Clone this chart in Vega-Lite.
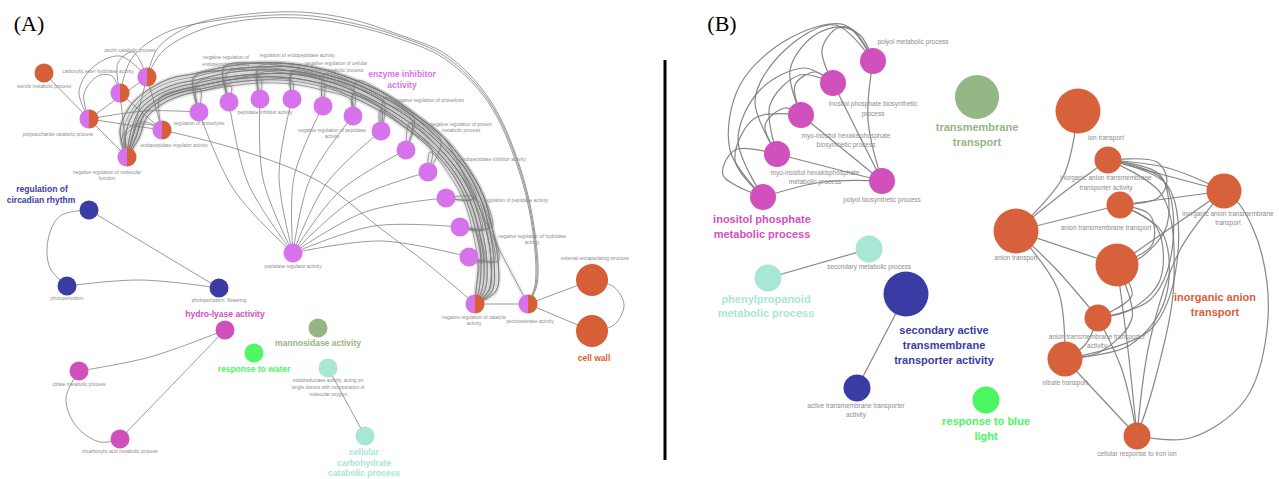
{
"$schema":"https://vega.github.io/schema/vega-lite/v6.json",
"width":1279,"height":479,"autosize":{"type":"none"},"padding":0,"background":"#ffffff",
"config":{"view":{"stroke":null}},
"datasets":{
"ea":[
{"e":"b1","x":127,"y":157},{"e":"b1","x":136,"y":137},{"e":"b1","x":144,"y":115},{"e":"b1","x":162,"y":100},{"e":"b1","x":182,"y":92},{"e":"b1","x":200,"y":89},{"e":"b1","x":199,"y":112},
{"e":"b2","x":127,"y":157},{"e":"b2","x":139,"y":138},{"e":"b2","x":147,"y":117},{"e":"b2","x":164,"y":103},{"e":"b2","x":183,"y":95},{"e":"b2","x":202,"y":91},{"e":"b2","x":231,"y":86},{"e":"b2","x":229,"y":102},
{"e":"b3","x":127,"y":157},{"e":"b3","x":133,"y":136},{"e":"b3","x":142,"y":113},{"e":"b3","x":160,"y":98},{"e":"b3","x":180,"y":90},{"e":"b3","x":199,"y":86},{"e":"b3","x":229,"y":80},{"e":"b3","x":260,"y":77},{"e":"b3","x":260,"y":99},
{"e":"b4","x":127,"y":157},{"e":"b4","x":136,"y":137},{"e":"b4","x":144,"y":115},{"e":"b4","x":162,"y":100},{"e":"b4","x":182,"y":92},{"e":"b4","x":200,"y":89},{"e":"b4","x":230,"y":83},{"e":"b4","x":261,"y":80},{"e":"b4","x":292,"y":81},{"e":"b4","x":292,"y":99},
{"e":"b5","x":127,"y":157},{"e":"b5","x":130,"y":135},{"e":"b5","x":139,"y":111},{"e":"b5","x":158,"y":95},{"e":"b5","x":178,"y":87},{"e":"b5","x":197,"y":83},{"e":"b5","x":228,"y":77},{"e":"b5","x":259,"y":74},{"e":"b5","x":292,"y":74},{"e":"b5","x":323,"y":80},{"e":"b5","x":323,"y":106},
{"e":"b6","x":127,"y":157},{"e":"b6","x":139,"y":138},{"e":"b6","x":147,"y":117},{"e":"b6","x":164,"y":103},{"e":"b6","x":183,"y":95},{"e":"b6","x":202,"y":91},{"e":"b6","x":231,"y":86},{"e":"b6","x":261,"y":83},{"e":"b6","x":292,"y":84},{"e":"b6","x":322,"y":90},{"e":"b6","x":351,"y":100},{"e":"b6","x":353,"y":116},
{"e":"b7","x":127,"y":157},{"e":"b7","x":133,"y":136},{"e":"b7","x":142,"y":113},{"e":"b7","x":160,"y":98},{"e":"b7","x":180,"y":90},{"e":"b7","x":199,"y":86},{"e":"b7","x":229,"y":80},{"e":"b7","x":260,"y":77},{"e":"b7","x":292,"y":78},{"e":"b7","x":323,"y":84},{"e":"b7","x":353,"y":94},{"e":"b7","x":381,"y":108},{"e":"b7","x":381,"y":131},
{"e":"b8","x":127,"y":157},{"e":"b8","x":126,"y":133},{"e":"b8","x":136,"y":109},{"e":"b8","x":155,"y":93},{"e":"b8","x":176,"y":84},{"e":"b8","x":196,"y":80},{"e":"b8","x":227,"y":73},{"e":"b8","x":259,"y":70},{"e":"b8","x":292,"y":71},{"e":"b8","x":324,"y":77},{"e":"b8","x":355,"y":87},{"e":"b8","x":384,"y":102},{"e":"b8","x":412,"y":120},{"e":"b8","x":406,"y":150},
{"e":"b9","x":127,"y":157},{"e":"b9","x":136,"y":137},{"e":"b9","x":144,"y":115},{"e":"b9","x":162,"y":100},{"e":"b9","x":182,"y":92},{"e":"b9","x":200,"y":89},{"e":"b9","x":230,"y":83},{"e":"b9","x":261,"y":80},{"e":"b9","x":292,"y":81},{"e":"b9","x":323,"y":87},{"e":"b9","x":352,"y":97},{"e":"b9","x":380,"y":111},{"e":"b9","x":406,"y":128},{"e":"b9","x":432,"y":150},{"e":"b9","x":428,"y":172},
{"e":"b10","x":127,"y":157},{"e":"b10","x":130,"y":135},{"e":"b10","x":139,"y":111},{"e":"b10","x":158,"y":95},{"e":"b10","x":178,"y":87},{"e":"b10","x":197,"y":83},{"e":"b10","x":228,"y":77},{"e":"b10","x":259,"y":74},{"e":"b10","x":292,"y":74},{"e":"b10","x":323,"y":80},{"e":"b10","x":354,"y":91},{"e":"b10","x":382,"y":105},{"e":"b10","x":410,"y":123},{"e":"b10","x":436,"y":145},{"e":"b10","x":458,"y":171},{"e":"b10","x":473,"y":199},{"e":"b10","x":446,"y":198},
{"e":"b11","x":127,"y":157},{"e":"b11","x":123,"y":132},{"e":"b11","x":134,"y":107},{"e":"b11","x":153,"y":90},{"e":"b11","x":174,"y":81},{"e":"b11","x":194,"y":77},{"e":"b11","x":225,"y":70},{"e":"b11","x":258,"y":67},{"e":"b11","x":292,"y":67},{"e":"b11","x":324,"y":74},{"e":"b11","x":356,"y":84},{"e":"b11","x":385,"y":98},{"e":"b11","x":414,"y":117},{"e":"b11","x":441,"y":141},{"e":"b11","x":464,"y":167},{"e":"b11","x":480,"y":197},{"e":"b11","x":489,"y":228},{"e":"b11","x":460,"y":227},
{"e":"b12","x":127,"y":157},{"e":"b12","x":133,"y":136},{"e":"b12","x":142,"y":113},{"e":"b12","x":160,"y":98},{"e":"b12","x":180,"y":90},{"e":"b12","x":199,"y":86},{"e":"b12","x":229,"y":80},{"e":"b12","x":260,"y":77},{"e":"b12","x":292,"y":78},{"e":"b12","x":323,"y":84},{"e":"b12","x":353,"y":94},{"e":"b12","x":381,"y":108},{"e":"b12","x":408,"y":126},{"e":"b12","x":434,"y":148},{"e":"b12","x":455,"y":173},{"e":"b12","x":470,"y":201},{"e":"b12","x":479,"y":231},{"e":"b12","x":484,"y":262},{"e":"b12","x":469,"y":257},
{"e":"b13","x":127,"y":157},{"e":"b13","x":120,"y":131},{"e":"b13","x":131,"y":105},{"e":"b13","x":151,"y":88},{"e":"b13","x":172,"y":78},{"e":"b13","x":193,"y":74},{"e":"b13","x":224,"y":67},{"e":"b13","x":257,"y":63},{"e":"b13","x":292,"y":64},{"e":"b13","x":325,"y":70},{"e":"b13","x":357,"y":81},{"e":"b13","x":387,"y":95},{"e":"b13","x":416,"y":115},{"e":"b13","x":444,"y":138},{"e":"b13","x":466,"y":165},{"e":"b13","x":483,"y":195},{"e":"b13","x":492,"y":227},{"e":"b13","x":498,"y":261},{"e":"b13","x":496,"y":291},{"e":"b13","x":475,"y":304},
{"e":"b14","x":127,"y":157},{"e":"b14","x":126,"y":133},{"e":"b14","x":136,"y":109},{"e":"b14","x":155,"y":93},{"e":"b14","x":176,"y":84},{"e":"b14","x":196,"y":80},{"e":"b14","x":227,"y":73},{"e":"b14","x":259,"y":70},{"e":"b14","x":292,"y":71},{"e":"b14","x":324,"y":77},{"e":"b14","x":355,"y":87},{"e":"b14","x":384,"y":102},{"e":"b14","x":412,"y":120},{"e":"b14","x":439,"y":143},{"e":"b14","x":461,"y":169},{"e":"b14","x":476,"y":198},{"e":"b14","x":486,"y":229},{"e":"b14","x":491,"y":261},{"e":"b14","x":489,"y":290},{"e":"b14","x":475,"y":304},
{"e":"b15","x":199,"y":112},{"e":"b15","x":194,"y":77},{"e":"b15","x":225,"y":70},{"e":"b15","x":258,"y":67},{"e":"b15","x":292,"y":67},{"e":"b15","x":324,"y":74},{"e":"b15","x":356,"y":84},{"e":"b15","x":385,"y":98},{"e":"b15","x":414,"y":117},{"e":"b15","x":441,"y":141},{"e":"b15","x":464,"y":167},{"e":"b15","x":480,"y":197},{"e":"b15","x":489,"y":228},{"e":"b15","x":494,"y":261},{"e":"b15","x":492,"y":291},{"e":"b15","x":475,"y":304},
{"e":"b16","x":229,"y":102},{"e":"b16","x":224,"y":67},{"e":"b16","x":257,"y":63},{"e":"b16","x":292,"y":64},{"e":"b16","x":325,"y":70},{"e":"b16","x":357,"y":81},{"e":"b16","x":387,"y":95},{"e":"b16","x":416,"y":115},{"e":"b16","x":444,"y":138},{"e":"b16","x":466,"y":165},{"e":"b16","x":483,"y":195},{"e":"b16","x":492,"y":227},{"e":"b16","x":498,"y":261},{"e":"b16","x":496,"y":291},{"e":"b16","x":475,"y":304},
{"e":"b17","x":260,"y":99},{"e":"b17","x":259,"y":70},{"e":"b17","x":292,"y":71},{"e":"b17","x":324,"y":77},{"e":"b17","x":355,"y":87},{"e":"b17","x":384,"y":102},{"e":"b17","x":412,"y":120},{"e":"b17","x":439,"y":143},{"e":"b17","x":461,"y":169},{"e":"b17","x":476,"y":198},{"e":"b17","x":486,"y":229},{"e":"b17","x":491,"y":261},{"e":"b17","x":489,"y":290},{"e":"b17","x":475,"y":304},
{"e":"b18","x":292,"y":99},{"e":"b18","x":292,"y":74},{"e":"b18","x":323,"y":80},{"e":"b18","x":354,"y":91},{"e":"b18","x":382,"y":105},{"e":"b18","x":410,"y":123},{"e":"b18","x":436,"y":145},{"e":"b18","x":458,"y":171},{"e":"b18","x":473,"y":199},{"e":"b18","x":482,"y":230},{"e":"b18","x":487,"y":262},{"e":"b18","x":485,"y":290},{"e":"b18","x":475,"y":304},
{"e":"b19","x":323,"y":106},{"e":"b19","x":324,"y":74},{"e":"b19","x":356,"y":84},{"e":"b19","x":385,"y":98},{"e":"b19","x":414,"y":117},{"e":"b19","x":441,"y":141},{"e":"b19","x":464,"y":167},{"e":"b19","x":480,"y":197},{"e":"b19","x":489,"y":228},{"e":"b19","x":494,"y":261},{"e":"b19","x":492,"y":291},{"e":"b19","x":475,"y":304},
{"e":"b20","x":353,"y":116},{"e":"b20","x":353,"y":94},{"e":"b20","x":381,"y":108},{"e":"b20","x":408,"y":126},{"e":"b20","x":434,"y":148},{"e":"b20","x":455,"y":173},{"e":"b20","x":470,"y":201},{"e":"b20","x":479,"y":231},{"e":"b20","x":484,"y":262},{"e":"b20","x":482,"y":290},{"e":"b20","x":475,"y":304},
{"e":"b21","x":381,"y":131},{"e":"b21","x":380,"y":111},{"e":"b21","x":406,"y":128},{"e":"b21","x":432,"y":150},{"e":"b21","x":453,"y":175},{"e":"b21","x":467,"y":202},{"e":"b21","x":476,"y":232},{"e":"b21","x":481,"y":262},{"e":"b21","x":479,"y":290},{"e":"b21","x":475,"y":304},
{"e":"b22","x":406,"y":150},{"e":"b22","x":410,"y":123},{"e":"b22","x":436,"y":145},{"e":"b22","x":458,"y":171},{"e":"b22","x":473,"y":199},{"e":"b22","x":482,"y":230},{"e":"b22","x":487,"y":262},{"e":"b22","x":485,"y":290},{"e":"b22","x":475,"y":304},
{"e":"b23","x":428,"y":172},{"e":"b23","x":430,"y":152},{"e":"b23","x":450,"y":176},{"e":"b23","x":465,"y":204},{"e":"b23","x":473,"y":233},{"e":"b23","x":478,"y":263},{"e":"b23","x":476,"y":290},{"e":"b23","x":475,"y":304},
{"e":"b24","x":446,"y":198},{"e":"b24","x":476,"y":198},{"e":"b24","x":486,"y":229},{"e":"b24","x":491,"y":261},{"e":"b24","x":489,"y":290},{"e":"b24","x":475,"y":304},
{"e":"b25","x":460,"y":227},{"e":"b25","x":476,"y":232},{"e":"b25","x":481,"y":262},{"e":"b25","x":479,"y":290},{"e":"b25","x":475,"y":304},
{"e":"b26","x":469,"y":257},{"e":"b26","x":478,"y":263},{"e":"b26","x":476,"y":290},{"e":"b26","x":475,"y":304},
{"e":"b27","x":199,"y":112},{"e":"b27","x":194,"y":77},{"e":"b27","x":225,"y":70},{"e":"b27","x":258,"y":67},{"e":"b27","x":292,"y":67},{"e":"b27","x":324,"y":74},{"e":"b27","x":356,"y":84},{"e":"b27","x":385,"y":98},{"e":"b27","x":414,"y":117},{"e":"b27","x":441,"y":141},{"e":"b27","x":428,"y":172},
{"e":"b28","x":229,"y":102},{"e":"b28","x":224,"y":67},{"e":"b28","x":257,"y":63},{"e":"b28","x":292,"y":64},{"e":"b28","x":325,"y":70},{"e":"b28","x":357,"y":81},{"e":"b28","x":387,"y":95},{"e":"b28","x":416,"y":115},{"e":"b28","x":444,"y":138},{"e":"b28","x":466,"y":165},{"e":"b28","x":483,"y":195},{"e":"b28","x":492,"y":227},{"e":"b28","x":498,"y":261},{"e":"b28","x":469,"y":257},
{"e":"b29","x":260,"y":99},{"e":"b29","x":259,"y":74},{"e":"b29","x":292,"y":74},{"e":"b29","x":323,"y":80},{"e":"b29","x":354,"y":91},{"e":"b29","x":382,"y":105},{"e":"b29","x":410,"y":123},{"e":"b29","x":436,"y":145},{"e":"b29","x":458,"y":171},{"e":"b29","x":473,"y":199},{"e":"b29","x":482,"y":230},{"e":"b29","x":460,"y":227},
{"e":"b30","x":292,"y":99},{"e":"b30","x":292,"y":71},{"e":"b30","x":324,"y":77},{"e":"b30","x":355,"y":87},{"e":"b30","x":384,"y":102},{"e":"b30","x":412,"y":120},{"e":"b30","x":439,"y":143},{"e":"b30","x":461,"y":169},{"e":"b30","x":476,"y":198},{"e":"b30","x":446,"y":198},
{"e":"b31","x":323,"y":106},{"e":"b31","x":323,"y":87},{"e":"b31","x":352,"y":97},{"e":"b31","x":380,"y":111},{"e":"b31","x":406,"y":128},{"e":"b31","x":432,"y":150},{"e":"b31","x":453,"y":175},{"e":"b31","x":467,"y":202},{"e":"b31","x":476,"y":232},{"e":"b31","x":481,"y":262},{"e":"b31","x":469,"y":257},
{"e":"b32","x":199,"y":112},{"e":"b32","x":197,"y":83},{"e":"b32","x":228,"y":77},{"e":"b32","x":259,"y":74},{"e":"b32","x":292,"y":74},{"e":"b32","x":323,"y":80},{"e":"b32","x":354,"y":91},{"e":"b32","x":353,"y":116},
{"e":"b33","x":229,"y":102},{"e":"b33","x":227,"y":73},{"e":"b33","x":259,"y":70},{"e":"b33","x":292,"y":71},{"e":"b33","x":324,"y":77},{"e":"b33","x":355,"y":87},{"e":"b33","x":384,"y":102},{"e":"b33","x":381,"y":131},
{"e":"b34","x":260,"y":99},{"e":"b34","x":258,"y":67},{"e":"b34","x":292,"y":67},{"e":"b34","x":324,"y":74},{"e":"b34","x":356,"y":84},{"e":"b34","x":385,"y":98},{"e":"b34","x":414,"y":117},{"e":"b34","x":406,"y":150},
{"e":"b35","x":353,"y":116},{"e":"b35","x":357,"y":81},{"e":"b35","x":387,"y":95},{"e":"b35","x":416,"y":115},{"e":"b35","x":444,"y":138},{"e":"b35","x":466,"y":165},{"e":"b35","x":483,"y":195},{"e":"b35","x":492,"y":227},{"e":"b35","x":460,"y":227},
{"e":"b36","x":381,"y":131},{"e":"b36","x":385,"y":98},{"e":"b36","x":414,"y":117},{"e":"b36","x":441,"y":141},{"e":"b36","x":464,"y":167},{"e":"b36","x":480,"y":197},{"e":"b36","x":489,"y":228},{"e":"b36","x":494,"y":261},{"e":"b36","x":469,"y":257},
{"e":"b37","x":127,"y":157},{"e":"b37","x":120,"y":131},{"e":"b37","x":131,"y":105},{"e":"b37","x":151,"y":88},{"e":"b37","x":172,"y":78},{"e":"b37","x":193,"y":74},{"e":"b37","x":224,"y":67},{"e":"b37","x":257,"y":63},{"e":"b37","x":292,"y":64},{"e":"b37","x":325,"y":70},{"e":"b37","x":357,"y":81},{"e":"b37","x":387,"y":95},{"e":"b37","x":416,"y":115},{"e":"b37","x":444,"y":138},{"e":"b37","x":466,"y":180},{"e":"b37","x":497,"y":245},{"e":"b37","x":528,"y":304},
{"e":"b38","x":162,"y":130},{"e":"b38","x":160,"y":98},{"e":"b38","x":180,"y":90},{"e":"b38","x":199,"y":86},{"e":"b38","x":229,"y":80},{"e":"b38","x":260,"y":77},{"e":"b38","x":292,"y":78},{"e":"b38","x":323,"y":84},{"e":"b38","x":353,"y":94},{"e":"b38","x":381,"y":108},{"e":"b38","x":408,"y":126},{"e":"b38","x":434,"y":148},{"e":"b38","x":455,"y":173},{"e":"b38","x":470,"y":201},{"e":"b38","x":479,"y":231},{"e":"b38","x":484,"y":262},{"e":"b38","x":482,"y":290},{"e":"b38","x":475,"y":304},
{"e":"a1","x":44,"y":73},{"e":"a1","x":89,"y":119},
{"e":"a2","x":89,"y":119},{"e":"a2","x":147,"y":77},
{"e":"a3","x":89,"y":119},{"e":"a3","x":79,"y":92},{"e":"a3","x":92,"y":68},{"e":"a3","x":120,"y":56},{"e":"a3","x":147,"y":77},
{"e":"a4","x":89,"y":119},{"e":"a4","x":84,"y":94},{"e":"a4","x":98,"y":76},{"e":"a4","x":112,"y":76},{"e":"a4","x":120,"y":93},
{"e":"a5","x":120,"y":93},{"e":"a5","x":118,"y":63},{"e":"a5","x":133,"y":52},{"e":"a5","x":147,"y":77},
{"e":"a6","x":89,"y":119},{"e":"a6","x":162,"y":130},
{"e":"a7","x":89,"y":119},{"e":"a7","x":127,"y":157},
{"e":"a8","x":89,"y":119},{"e":"a8","x":145,"y":111},{"e":"a8","x":199,"y":112},
{"e":"a9","x":120,"y":93},{"e":"a9","x":127,"y":157},
{"e":"a10","x":120,"y":93},{"e":"a10","x":162,"y":130},
{"e":"a11","x":147,"y":77},{"e":"a11","x":162,"y":130},
{"e":"a12","x":147,"y":77},{"e":"a12","x":127,"y":157},
{"e":"a13","x":127,"y":157},{"e":"a13","x":121,"y":141},{"e":"a13","x":130,"y":127},{"e":"a13","x":146,"y":122},{"e":"a13","x":162,"y":130},
{"e":"a14","x":127,"y":157},{"e":"a14","x":125,"y":137},{"e":"a14","x":138,"y":125},{"e":"a14","x":152,"y":125},{"e":"a14","x":162,"y":130},
{"e":"a15","x":162,"y":130},{"e":"a15","x":240,"y":150},{"e":"a15","x":320,"y":182},{"e":"a15","x":380,"y":228},{"e":"a15","x":430,"y":266},{"e":"a15","x":475,"y":304},
{"e":"a16","x":147,"y":77},{"e":"a16","x":158,"y":48},{"e":"a16","x":190,"y":26},{"e":"a16","x":240,"y":15},{"e":"a16","x":300,"y":12},{"e":"a16","x":350,"y":19},{"e":"a16","x":400,"y":35},{"e":"a16","x":447,"y":55},{"e":"a16","x":490,"y":100},{"e":"a16","x":520,"y":167},{"e":"a16","x":535,"y":233},{"e":"a16","x":537,"y":285},{"e":"a16","x":528,"y":304},
{"e":"a17","x":120,"y":93},{"e":"a17","x":132,"y":58},{"e":"a17","x":165,"y":33},{"e":"a17","x":220,"y":20},{"e":"a17","x":300,"y":15},{"e":"a17","x":352,"y":23},{"e":"a17","x":401,"y":37},{"e":"a17","x":446,"y":57},{"e":"a17","x":489,"y":101},{"e":"a17","x":519,"y":167},{"e":"a17","x":534,"y":233},{"e":"a17","x":536,"y":285},{"e":"a17","x":528,"y":304},
{"e":"a18","x":147,"y":77},{"e":"a18","x":162,"y":52},{"e":"a18","x":195,"y":32},{"e":"a18","x":245,"y":20},{"e":"a18","x":300,"y":18},{"e":"a18","x":350,"y":25},{"e":"a18","x":400,"y":39},{"e":"a18","x":445,"y":59},{"e":"a18","x":488,"y":102},{"e":"a18","x":518,"y":168},{"e":"a18","x":533,"y":233},{"e":"a18","x":535,"y":285},{"e":"a18","x":528,"y":304},
{"e":"a19","x":475,"y":304},{"e":"a19","x":528,"y":304},
{"e":"a20","x":528,"y":304},{"e":"a20","x":592,"y":280},
{"e":"a21","x":528,"y":304},{"e":"a21","x":592,"y":331},
{"e":"a22","x":592,"y":280},{"e":"a22","x":614,"y":287},{"e":"a22","x":624,"y":305},{"e":"a22","x":614,"y":325},{"e":"a22","x":592,"y":331},
{"e":"a23","x":89,"y":210},{"e":"a23","x":60,"y":216},{"e":"a23","x":48,"y":240},{"e":"a23","x":50,"y":268},{"e":"a23","x":67,"y":286},
{"e":"a24","x":89,"y":210},{"e":"a24","x":219,"y":288},
{"e":"a25","x":67,"y":286},{"e":"a25","x":140,"y":280},{"e":"a25","x":219,"y":288},
{"e":"a26","x":79,"y":371},{"e":"a26","x":150,"y":357},{"e":"a26","x":225,"y":330},
{"e":"a27","x":225,"y":330},{"e":"a27","x":175,"y":382},{"e":"a27","x":120,"y":439},
{"e":"a28","x":79,"y":371},{"e":"a28","x":66,"y":398},{"e":"a28","x":76,"y":426},{"e":"a28","x":100,"y":442},{"e":"a28","x":120,"y":439},
{"e":"a29","x":328,"y":368},{"e":"a29","x":365,"y":436},
{"e":"f1","x":293,"y":253},{"e":"f1","x":234,"y":190},{"e":"f1","x":199,"y":112},
{"e":"f2","x":293,"y":253},{"e":"f2","x":248,"y":183},{"e":"f2","x":229,"y":102},
{"e":"f3","x":293,"y":253},{"e":"f3","x":263,"y":179},{"e":"f3","x":260,"y":99},
{"e":"f4","x":293,"y":253},{"e":"f4","x":279,"y":176},{"e":"f4","x":292,"y":99},
{"e":"f5","x":293,"y":253},{"e":"f5","x":294,"y":177},{"e":"f5","x":323,"y":106},
{"e":"f6","x":293,"y":253},{"e":"f6","x":310,"y":179},{"e":"f6","x":353,"y":116},
{"e":"f7","x":293,"y":253},{"e":"f7","x":326,"y":184},{"e":"f7","x":381,"y":131},
{"e":"f8","x":293,"y":253},{"e":"f8","x":340,"y":191},{"e":"f8","x":406,"y":150},
{"e":"f9","x":293,"y":253},{"e":"f9","x":353,"y":200},{"e":"f9","x":428,"y":172},
{"e":"f10","x":293,"y":253},{"e":"f10","x":365,"y":212},{"e":"f10","x":446,"y":198},
{"e":"f11","x":293,"y":253},{"e":"f11","x":374,"y":226},{"e":"f11","x":460,"y":227},
{"e":"f12","x":293,"y":253},{"e":"f12","x":381,"y":241},{"e":"f12","x":469,"y":257}
],
"eb":[
{"e":"c1","x":833,"y":83},{"e":"c1","x":822,"y":50},{"e":"c1","x":838,"y":28},{"e":"c1","x":860,"y":35},{"e":"c1","x":873,"y":61},
{"e":"c2","x":801,"y":115},{"e":"c2","x":790,"y":70},{"e":"c2","x":815,"y":35},{"e":"c2","x":850,"y":28},{"e":"c2","x":873,"y":61},
{"e":"c3","x":777,"y":154},{"e":"c3","x":755,"y":100},{"e":"c3","x":785,"y":50},{"e":"c3","x":835,"y":25},{"e":"c3","x":873,"y":61},
{"e":"c4","x":763,"y":197},{"e":"c4","x":730,"y":150},{"e":"c4","x":740,"y":85},{"e":"c4","x":790,"y":38},{"e":"c4","x":845,"y":25},{"e":"c4","x":873,"y":61},
{"e":"c5","x":801,"y":115},{"e":"c5","x":795,"y":85},{"e":"c5","x":815,"y":72},{"e":"c5","x":833,"y":83},
{"e":"c6","x":777,"y":154},{"e":"c6","x":770,"y":105},{"e":"c6","x":800,"y":75},{"e":"c6","x":833,"y":83},
{"e":"c7","x":763,"y":197},{"e":"c7","x":738,"y":140},{"e":"c7","x":760,"y":90},{"e":"c7","x":805,"y":68},{"e":"c7","x":833,"y":83},
{"e":"c8","x":777,"y":154},{"e":"c8","x":765,"y":125},{"e":"c8","x":785,"y":108},{"e":"c8","x":801,"y":115},
{"e":"c9","x":763,"y":197},{"e":"c9","x":735,"y":160},{"e":"c9","x":755,"y":118},{"e":"c9","x":801,"y":115},
{"e":"c10","x":763,"y":197},{"e":"c10","x":723,"y":175},{"e":"c10","x":735,"y":150},{"e":"c10","x":777,"y":154},
{"e":"c11","x":882,"y":181},{"e":"c11","x":868,"y":120},{"e":"c11","x":873,"y":61},
{"e":"c12","x":882,"y":181},{"e":"c12","x":833,"y":83},
{"e":"c13","x":882,"y":181},{"e":"c13","x":801,"y":115},
{"e":"c14","x":882,"y":181},{"e":"c14","x":777,"y":154},
{"e":"c15","x":882,"y":181},{"e":"c15","x":823,"y":182},{"e":"c15","x":763,"y":197},
{"e":"c16","x":768,"y":278},{"e":"c16","x":869,"y":249},
{"e":"c17","x":906,"y":294},{"e":"c17","x":857,"y":388},
{"e":"c18","x":1078,"y":111},{"e":"c18","x":1063,"y":177},{"e":"c18","x":1016,"y":231},
{"e":"c19","x":1108,"y":160},{"e":"c19","x":1063,"y":193},{"e":"c19","x":1016,"y":231},
{"e":"c20","x":1120,"y":205},{"e":"c20","x":1016,"y":231},
{"e":"c21","x":1016,"y":231},{"e":"c21","x":1117,"y":265},
{"e":"c22","x":1016,"y":231},{"e":"c22","x":1055,"y":268},{"e":"c22","x":1098,"y":318},
{"e":"c23","x":1016,"y":231},{"e":"c23","x":1058,"y":290},{"e":"c23","x":1065,"y":359},
{"e":"c24","x":1108,"y":160},{"e":"c24","x":1224,"y":191},
{"e":"c25","x":1108,"y":160},{"e":"c25","x":1168,"y":168},{"e":"c25","x":1224,"y":191},
{"e":"c26","x":1120,"y":205},{"e":"c26","x":1224,"y":191},
{"e":"c27","x":1117,"y":265},{"e":"c27","x":1224,"y":191},
{"e":"c28","x":1224,"y":191},{"e":"c28","x":1180,"y":250},{"e":"c28","x":1150,"y":340},{"e":"c28","x":1137,"y":436},
{"e":"c29","x":1108,"y":160},{"e":"c29","x":1157,"y":162},{"e":"c29","x":1167,"y":180},{"e":"c29","x":1158,"y":198},{"e":"c29","x":1120,"y":205},
{"e":"c30","x":1108,"y":160},{"e":"c30","x":1160,"y":175},{"e":"c30","x":1167,"y":225},{"e":"c30","x":1140,"y":258},{"e":"c30","x":1117,"y":265},
{"e":"c31","x":1108,"y":160},{"e":"c31","x":1163,"y":180},{"e":"c31","x":1172,"y":250},{"e":"c31","x":1150,"y":300},{"e":"c31","x":1098,"y":318},
{"e":"c32","x":1108,"y":160},{"e":"c32","x":1167,"y":185},{"e":"c32","x":1177,"y":262},{"e":"c32","x":1150,"y":330},{"e":"c32","x":1065,"y":359},
{"e":"c33","x":1108,"y":160},{"e":"c33","x":1162,"y":195},{"e":"c33","x":1174,"y":280},{"e":"c33","x":1155,"y":380},{"e":"c33","x":1137,"y":436},
{"e":"c34","x":1120,"y":205},{"e":"c34","x":1150,"y":215},{"e":"c34","x":1152,"y":245},{"e":"c34","x":1117,"y":265},
{"e":"c35","x":1120,"y":205},{"e":"c35","x":1157,"y":228},{"e":"c35","x":1160,"y":280},{"e":"c35","x":1130,"y":310},{"e":"c35","x":1098,"y":318},
{"e":"c36","x":1120,"y":205},{"e":"c36","x":1162,"y":232},{"e":"c36","x":1165,"y":300},{"e":"c36","x":1130,"y":345},{"e":"c36","x":1065,"y":359},
{"e":"c37","x":1117,"y":265},{"e":"c37","x":1132,"y":295},{"e":"c37","x":1098,"y":318},
{"e":"c38","x":1117,"y":265},{"e":"c38","x":1132,"y":318},{"e":"c38","x":1100,"y":352},{"e":"c38","x":1065,"y":359},
{"e":"c39","x":1117,"y":265},{"e":"c39","x":1128,"y":350},{"e":"c39","x":1137,"y":436},
{"e":"c40","x":1098,"y":318},{"e":"c40","x":1122,"y":370},{"e":"c40","x":1137,"y":436},
{"e":"c41","x":1065,"y":359},{"e":"c41","x":1137,"y":436},
{"e":"c42","x":1098,"y":318},{"e":"c42","x":1085,"y":345},{"e":"c42","x":1065,"y":359},
{"e":"c43","x":1137,"y":436},{"e":"c43","x":1190,"y":438},{"e":"c43","x":1245,"y":400},{"e":"c43","x":1267,"y":330},{"e":"c43","x":1262,"y":255},{"e":"c43","x":1240,"y":205},{"e":"c43","x":1224,"y":191}
],
"nodes":[
{"n":"sterols metabolic process","x":44,"y":73,"c":"cw","p":"f","d":19},
{"n":"pectin catabolic process","x":147,"y":77,"c":"ei","p":"l","d":19},
{"n":"pectin catabolic process","x":147,"y":77,"c":"cw","p":"r","d":19},
{"n":"carboxylic ester hydrolase activity","x":120,"y":93,"c":"ei","p":"l","d":19},
{"n":"carboxylic ester hydrolase activity","x":120,"y":93,"c":"cw","p":"r","d":19},
{"n":"polysaccharide catabolic process","x":89,"y":119,"c":"ei","p":"l","d":19},
{"n":"polysaccharide catabolic process","x":89,"y":119,"c":"cw","p":"r","d":19},
{"n":"endopeptidase regulator activity","x":162,"y":130,"c":"ei","p":"l","d":19},
{"n":"endopeptidase regulator activity","x":162,"y":130,"c":"cw","p":"r","d":19},
{"n":"negative regulation of molecular function","x":127,"y":157,"c":"ei","p":"l","d":19},
{"n":"negative regulation of molecular function","x":127,"y":157,"c":"cw","p":"r","d":19},
{"n":"regulation of proteolysis","x":199,"y":112,"c":"ei","p":"f","d":19},
{"n":"negative regulation of endopeptidase activity","x":229,"y":102,"c":"ei","p":"f","d":19},
{"n":"peptidase inhibitor activity","x":260,"y":99,"c":"ei","p":"f","d":19},
{"n":"regulation of endopeptidase activity","x":292,"y":99,"c":"ei","p":"f","d":19},
{"n":"negative regulation of cellular protein metabolic process","x":323,"y":106,"c":"ei","p":"f","d":19},
{"n":"negative regulation of peptidase activity","x":353,"y":116,"c":"ei","p":"f","d":19},
{"n":"enzyme inhibitor activity","x":381,"y":131,"c":"ei","p":"f","d":19},
{"n":"negative regulation of proteolysis","x":406,"y":150,"c":"ei","p":"f","d":19},
{"n":"negative regulation of protein metabolic process","x":428,"y":172,"c":"ei","p":"f","d":19},
{"n":"endopeptidase inhibitor activity","x":446,"y":198,"c":"ei","p":"f","d":19},
{"n":"regulation of peptidase activity","x":460,"y":227,"c":"ei","p":"f","d":19},
{"n":"negative regulation of hydrolase activity","x":469,"y":257,"c":"ei","p":"f","d":19},
{"n":"negative regulation of catalytic activity","x":475,"y":304,"c":"ei","p":"l","d":19},
{"n":"negative regulation of catalytic activity","x":475,"y":304,"c":"cw","p":"r","d":19},
{"n":"pectinesterase activity","x":528,"y":304,"c":"ei","p":"l","d":19},
{"n":"pectinesterase activity","x":528,"y":304,"c":"cw","p":"r","d":19},
{"n":"peptidase regulator activity","x":293,"y":253,"c":"ei","p":"f","d":19},
{"n":"external encapsulating structure","x":592,"y":280,"c":"cw","p":"f","d":32},
{"n":"cell wall","x":592,"y":331,"c":"cw","p":"f","d":32},
{"n":"regulation of circadian rhythm","x":89,"y":210,"c":"cr","p":"f","d":19},
{"n":"photoperiodism","x":67,"y":286,"c":"cr","p":"f","d":19},
{"n":"photoperiodism, flowering","x":219,"y":288,"c":"cr","p":"f","d":19},
{"n":"hydro-lyase activity","x":225,"y":330,"c":"hl","p":"f","d":19},
{"n":"citrate metabolic process","x":79,"y":371,"c":"hl","p":"f","d":19},
{"n":"tricarboxylic acid metabolic process","x":120,"y":439,"c":"hl","p":"f","d":19},
{"n":"mannosidase activity","x":318,"y":328,"c":"ma","p":"f","d":19},
{"n":"response to water","x":254,"y":353,"c":"rw","p":"f","d":19},
{"n":"oxidoreductase activity","x":328,"y":368,"c":"cc","p":"f","d":19},
{"n":"cellular carbohydrate catabolic process","x":365,"y":436,"c":"cc","p":"f","d":19},
{"n":"polyol metabolic process","x":873,"y":61,"c":"ip","p":"f","d":26},
{"n":"inositol phosphate biosynthetic process","x":833,"y":83,"c":"ip","p":"f","d":26},
{"n":"myo-inositol hexakisphosphate biosynthetic process","x":801,"y":115,"c":"ip","p":"f","d":26},
{"n":"myo-inositol hexakisphosphate metabolic process","x":777,"y":154,"c":"ip","p":"f","d":26},
{"n":"inositol phosphate metabolic process","x":763,"y":197,"c":"ip","p":"f","d":26},
{"n":"polyol biosynthetic process","x":882,"y":181,"c":"ip","p":"f","d":26},
{"n":"transmembrane transport","x":977,"y":97,"c":"tt","p":"f","d":44},
{"n":"phenylpropanoid metabolic process","x":768,"y":278,"c":"pp","p":"f","d":27},
{"n":"secondary metabolic process","x":869,"y":249,"c":"pp","p":"f","d":27},
{"n":"secondary active transmembrane transporter activity","x":906,"y":294,"c":"sa","p":"f","d":45},
{"n":"active transmembrane transporter activity","x":857,"y":388,"c":"sa","p":"f","d":27},
{"n":"response to blue light","x":986,"y":400,"c":"bl","p":"f","d":27},
{"n":"ion transport","x":1078,"y":111,"c":"ia","p":"f","d":45},
{"n":"inorganic anion transmembrane transporter activity","x":1108,"y":160,"c":"ia","p":"f","d":27},
{"n":"anion transmembrane transport","x":1120,"y":205,"c":"ia","p":"f","d":27},
{"n":"inorganic anion transmembrane transport","x":1224,"y":191,"c":"ia","p":"f","d":35},
{"n":"anion transport","x":1016,"y":231,"c":"ia","p":"f","d":45},
{"n":"inorganic anion transport","x":1117,"y":265,"c":"ia","p":"f","d":43},
{"n":"anion transmembrane transporter activity","x":1098,"y":318,"c":"ia","p":"f","d":27},
{"n":"nitrate transport","x":1065,"y":359,"c":"ia","p":"f","d":35},
{"n":"cellular response to iron ion","x":1137,"y":436,"c":"ia","p":"f","d":27}
],
"la":[
{"t":"sterols metabolic process","x":44,"y":87},
{"t":"pectin catabolic process","x":130,"y":51},
{"t":"carboxylic ester hydrolase activity","x":98,"y":72},
{"t":"polysaccharide catabolic process","x":58,"y":135},
{"t":"endopeptidase regulator activity","x":174,"y":146},
{"t":"negative regulation of molecular","x":107,"y":173},
{"t":"function","x":107,"y":179},
{"t":"regulation of proteolysis","x":199,"y":124},
{"t":"negative regulation of","x":226,"y":58},
{"t":"endopeptidase activity","x":226,"y":65},
{"t":"regulation of endopeptidase activity","x":297,"y":56},
{"t":"negative regulation of cellular","x":336,"y":64},
{"t":"protein metabolic process","x":336,"y":71},
{"t":"peptidase inhibitor activity","x":265,"y":113},
{"t":"negative regulation of proteolysis","x":429,"y":101},
{"t":"negative regulation of peptidase","x":332,"y":131},
{"t":"activity","x":332,"y":137},
{"t":"negative regulation of protein","x":461,"y":125},
{"t":"metabolic process","x":461,"y":131},
{"t":"endopeptidase inhibitor activity","x":493,"y":160},
{"t":"regulation of peptidase activity","x":516,"y":201},
{"t":"negative regulation of hydrolase","x":532,"y":237},
{"t":"activity","x":532,"y":243},
{"t":"external encapsulating structure","x":595,"y":259},
{"t":"negative regulation of catalytic","x":474,"y":318},
{"t":"activity","x":474,"y":324},
{"t":"pectinesterase activity","x":530,"y":322},
{"t":"peptidase regulator activity","x":293,"y":267},
{"t":"photoperiodism","x":67,"y":299},
{"t":"photoperiodism, flowering","x":219,"y":301},
{"t":"citrate metabolic process","x":79,"y":385},
{"t":"tricarboxylic acid metabolic process","x":120,"y":452},
{"t":"oxidoreductase activity, acting on","x":328,"y":381},
{"t":"single donors with incorporation of","x":328,"y":388},
{"t":"molecular oxygen","x":328,"y":395}
],
"lb":[
{"t":"polyol metabolic process","x":913,"y":42},
{"t":"inositol phosphate biosynthetic","x":873,"y":104},
{"t":"process","x":873,"y":114},
{"t":"myo-inositol hexakisphosphate","x":846,"y":136},
{"t":"biosynthetic process","x":846,"y":145},
{"t":"myo-inositol hexakisphosphate","x":815,"y":173},
{"t":"metabolic process","x":815,"y":182},
{"t":"polyol biosynthetic process","x":882,"y":200},
{"t":"secondary metabolic process","x":869,"y":267},
{"t":"active transmembrane transporter","x":856,"y":406},
{"t":"activity","x":856,"y":415},
{"t":"ion transport","x":1106,"y":138},
{"t":"inorganic anion transmembrane","x":1106,"y":178},
{"t":"transporter activity","x":1106,"y":188},
{"t":"anion transmembrane transport","x":1106,"y":228},
{"t":"inorganic anion transmembrane","x":1228,"y":214},
{"t":"transport","x":1228,"y":223},
{"t":"anion transport","x":1016,"y":258},
{"t":"anion transmembrane transporter","x":1097,"y":337},
{"t":"activity","x":1097,"y":346},
{"t":"nitrate transport","x":1065,"y":383},
{"t":"cellular response to iron ion","x":1137,"y":454}
],
"ca":[
{"t":"enzyme inhibitor","x":402,"y":74,"c":"ei"},
{"t":"activity","x":402,"y":85,"c":"ei"},
{"t":"regulation of","x":42,"y":189,"c":"cr"},
{"t":"circadian rhythm","x":41,"y":200,"c":"cr"},
{"t":"hydro-lyase activity","x":225,"y":314,"c":"hl"},
{"t":"mannosidase activity","x":318,"y":343,"c":"ma"},
{"t":"response to water","x":254,"y":369,"c":"rw"},
{"t":"cellular","x":364,"y":452,"c":"cc"},
{"t":"carbohydrate","x":364,"y":463,"c":"cc"},
{"t":"catabolic process","x":364,"y":473,"c":"cc"},
{"t":"cell wall","x":594,"y":358,"c":"cw"}
],
"cb":[
{"t":"inositol phosphate","x":762,"y":220,"c":"ip"},
{"t":"metabolic process","x":762,"y":235,"c":"ip"},
{"t":"transmembrane","x":977,"y":128,"c":"tt"},
{"t":"transport","x":977,"y":143,"c":"tt"},
{"t":"phenylpropanoid","x":766,"y":300,"c":"pp"},
{"t":"metabolic process","x":766,"y":314,"c":"pp"},
{"t":"secondary active","x":944,"y":331,"c":"sa"},
{"t":"transmembrane","x":944,"y":346,"c":"sa"},
{"t":"transporter activity","x":944,"y":361,"c":"sa"},
{"t":"response to blue","x":986,"y":422,"c":"bl"},
{"t":"light","x":986,"y":437,"c":"bl"},
{"t":"inorganic anion","x":1215,"y":298,"c":"ia"},
{"t":"transport","x":1215,"y":313,"c":"ia"}
]
},
"encoding":{
"x":{"field":"x","type":"quantitative","scale":{"domain":[0,1279],"nice":false,"zero":false},"axis":null},
"y":{"field":"y","type":"quantitative","scale":{"domain":[0,479],"reverse":true,"nice":false,"zero":false},"axis":null}
},
"layer":[
{"data":{"name":"ea"},"transform":[{"filter":"indexof(datum.e, 'b') == 0"}],"mark":{"type":"line","interpolate":"catmull-rom","strokeWidth":4.5,"color":"#a0a0a0","opacity":0.16},
 "encoding":{"detail":{"field":"e","type":"nominal"},"order":{"value":null}}},
{"data":{"name":"ea"},"mark":{"type":"line","interpolate":"catmull-rom","strokeWidth":0.9,"color":"#7a7a7a","opacity":0.85},
 "encoding":{"detail":{"field":"e","type":"nominal"},"order":{"value":null}}},
{"data":{"name":"eb"},"mark":{"type":"line","interpolate":"catmull-rom","strokeWidth":1.2,"color":"#7a7a7a","opacity":0.9},
 "encoding":{"detail":{"field":"e","type":"nominal"},"order":{"value":null}}},
{"data":{"values":[{"x":665,"y":60,"y2":460}]},"mark":{"type":"rule","strokeWidth":3,"color":"#000000"},
 "encoding":{"y2":{"field":"y2"}}},
{"data":{"name":"nodes"},"mark":{"type":"point","filled":true,"opacity":1},
 "encoding":{
  "color":{"field":"c","type":"nominal","legend":null,"scale":{"domain":["ei","cw","cr","hl","ma","rw","cc","ip","tt","pp","sa","bl","ia"],"range":["#d673ea","#d65f37","#3a3ca4","#d050bb","#95b583","#4df862","#a8e6d6","#d050bc","#94b785","#a8e6d6","#3a3ca5","#4df563","#d6613a"]}},
  "shape":{"field":"p","type":"nominal","legend":null,"scale":{"domain":["f","l","r"],"range":["circle","M0,-1A1,1 0 0 0 0,1Z","M0,-1A1,1 0 0 1 0,1Z"]}},
  "size":{"field":"d","type":"quantitative","legend":null,"scale":{"type":"pow","exponent":2,"domain":[0,100],"range":[0,10000]}}
 }},
{"data":{"name":"la"},"mark":{"type":"text","font":"Liberation Sans","fontSize":4.8,"color":"#8c8c8c","align":"center","baseline":"middle"},
 "encoding":{"text":{"field":"t"}}},
{"data":{"name":"lb"},"mark":{"type":"text","font":"Liberation Sans","fontSize":6.5,"color":"#8c8c8c","align":"center","baseline":"middle"},
 "encoding":{"text":{"field":"t"}}},
{"data":{"name":"ca"},"mark":{"type":"text","font":"Liberation Sans","fontSize":8.5,"fontWeight":"bold","align":"center","baseline":"middle"},
 "encoding":{"text":{"field":"t"},"color":{"field":"c","type":"nominal","legend":null,"scale":{"domain":["ei","cw","cr","hl","ma","rw","cc","ip","tt","pp","sa","bl","ia"],"range":["#d673ea","#d65f37","#3a3ca4","#d050bb","#95b583","#4df862","#a8e6d6","#d050bc","#94b785","#a8e6d6","#3a3ca5","#4df563","#d6613a"]}}}},
{"data":{"name":"cb"},"mark":{"type":"text","font":"Liberation Sans","fontSize":11,"fontWeight":"bold","align":"center","baseline":"middle"},
 "encoding":{"text":{"field":"t"},"color":{"field":"c","type":"nominal","legend":null,"scale":{"domain":["ei","cw","cr","hl","ma","rw","cc","ip","tt","pp","sa","bl","ia"],"range":["#d673ea","#d65f37","#3a3ca4","#d050bb","#95b583","#4df862","#a8e6d6","#d050bc","#94b785","#a8e6d6","#3a3ca5","#4df563","#d6613a"]}}}},
{"data":{"values":[{"t":"(A)","x":29,"y":24},{"t":"(B)","x":722,"y":24}]},"mark":{"type":"text","font":"Liberation Serif","fontSize":22,"color":"#000000","align":"center","baseline":"middle"},
 "encoding":{"text":{"field":"t"}}}
]
}
